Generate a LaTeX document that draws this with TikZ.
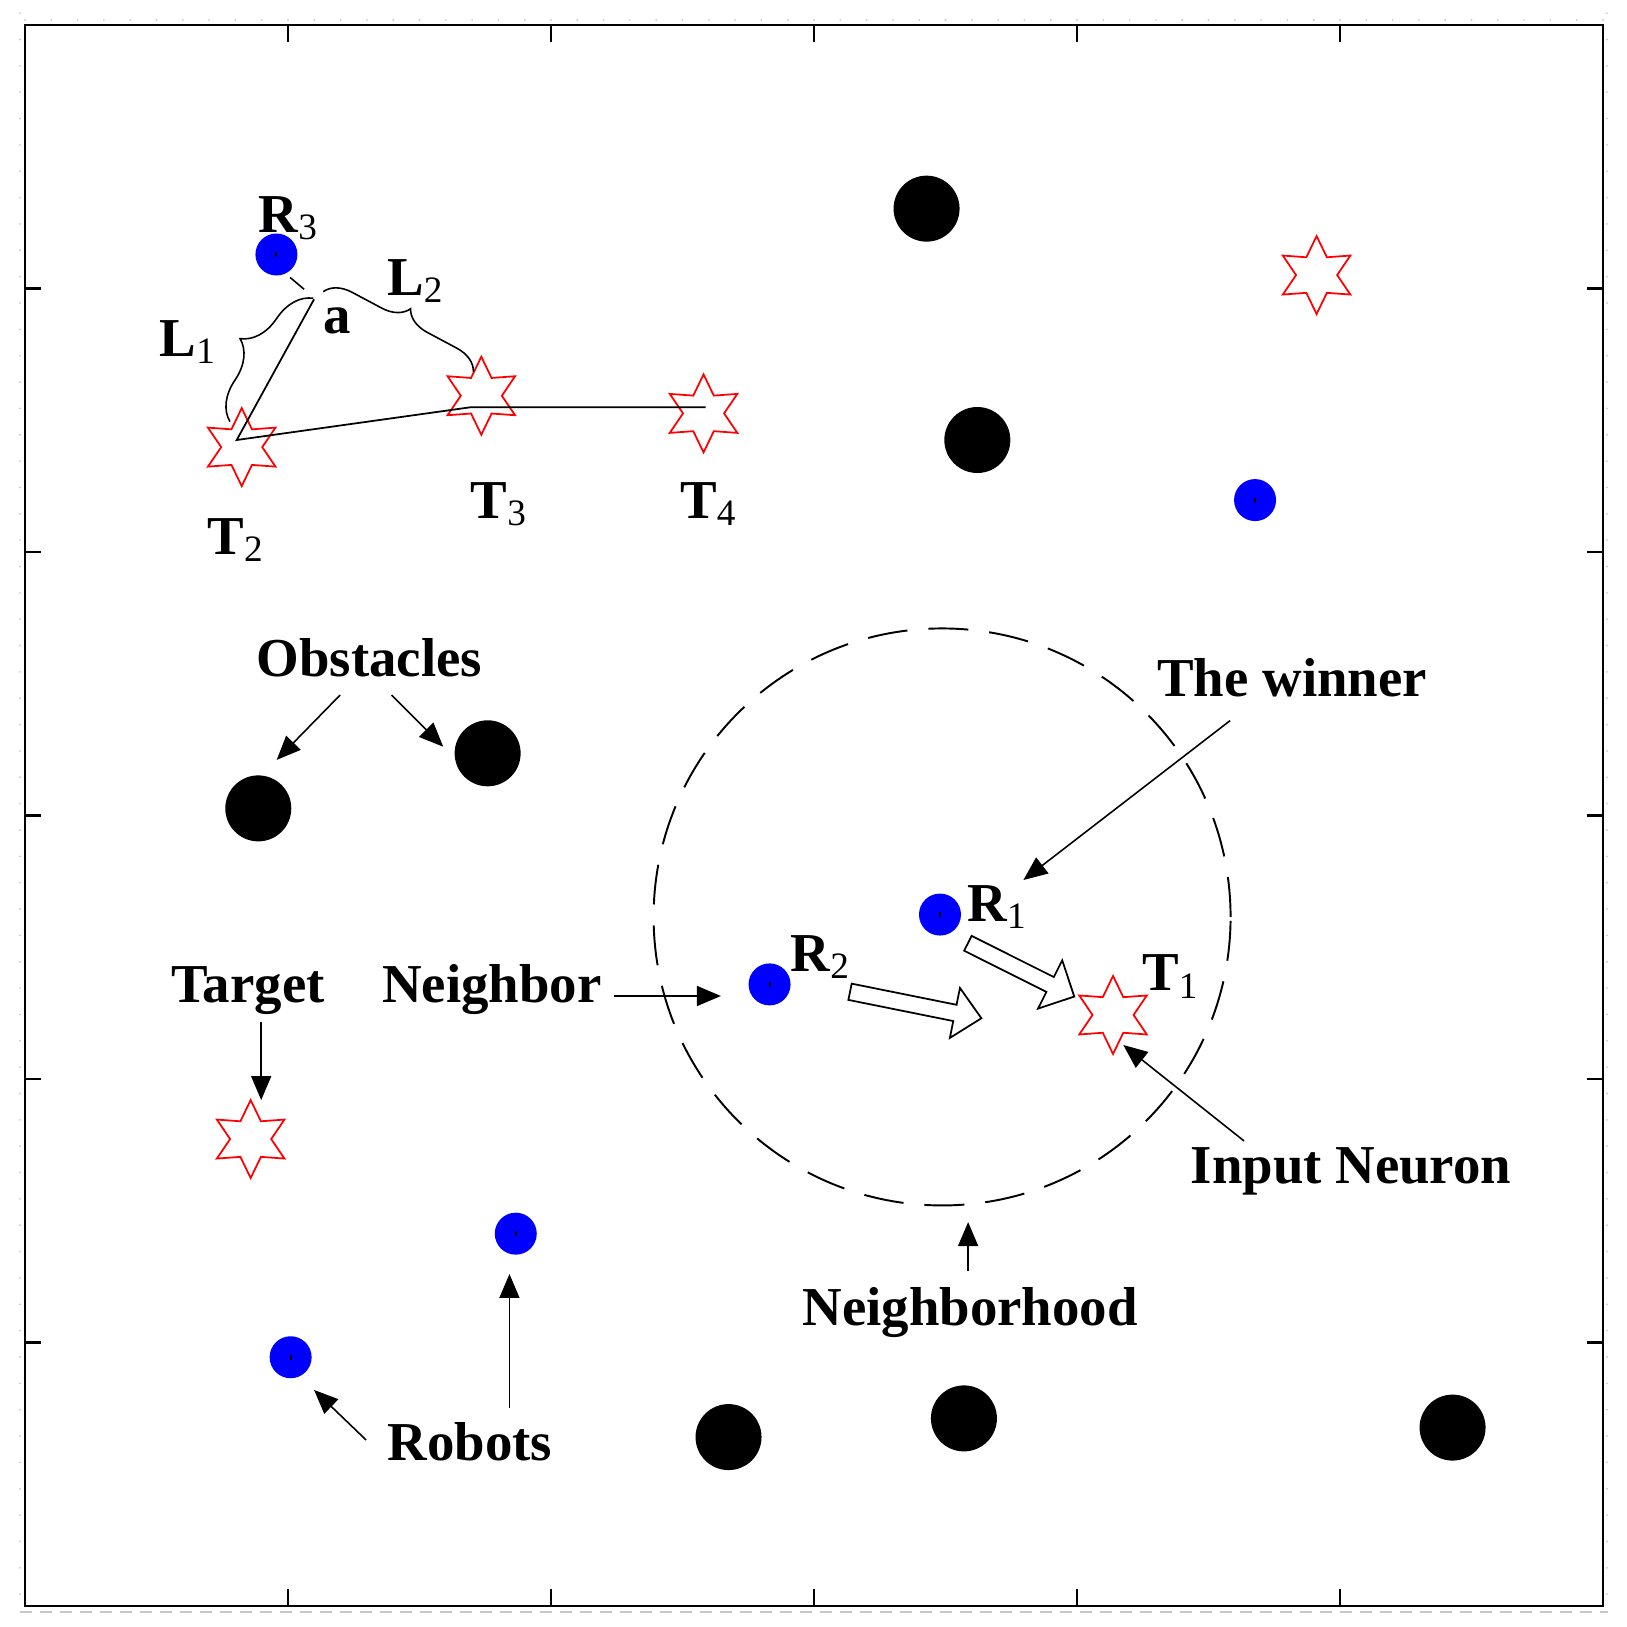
\documentclass[tikz,border=0pt]{standalone}
\usepackage{fontspec}
\setmainfont{Liberation Serif}
\usetikzlibrary{arrows.meta,shapes.geometric,decorations.pathreplacing}
\newcommand{\tsub}[2]{#1\raisebox{-2pt}{\fontsize{10.6}{12}\selectfont\mdseries #2}}
\tikzset{
  obst/.style={circle,fill=black,minimum size=6.6mm,inner sep=0},
  robot/.style={circle,fill=blue,minimum size=4.2mm,inner sep=0},
  tgt/.style={star,star points=6,star point ratio=1.9,draw=red,line width=.5pt,minimum size=7.8mm,inner sep=0},
  lbl/.style={anchor=base west,inner sep=0},
  arr/.style={-{Triangle[length=2.4mm,width=2mm]},line width=.45pt},
  brc/.style={decorate,decoration={brace,amplitude=#1},line width=.45pt}
}
\begin{document}
\begin{tikzpicture}[x=2.63cm,y=2.635cm,font=\fontsize{15.6}{18}\selectfont\bfseries]
\useasboundingbox (-.0951,-.0797) rectangle (6.0913,6.0949);
\draw[gray!45,dash pattern=on 1.2mm off .8mm,line width=.6pt] (-.02,-.024)--(6.02,-.024);
\foreach \k in {0,...,60}{\fill[gray!40] (\k/10,6.019) circle[radius=.3pt] (-.019,\k/10+.045) circle[radius=.3pt] (6.015,\k/10+.045) circle[radius=.3pt];}
\draw[line width=.8pt] (0,0) rectangle (6,6);
\foreach \t in {1,...,5}{\draw[line width=.8pt] (\t,0)--(\t,.065) (\t,6)--(\t,5.935) (0,\t)--(.062,\t) (6,\t)--(5.938,\t);}
\draw[line width=.55pt,dash pattern=on 4mm off 2.1mm] (3.487,2.615) circle[radius=2.885cm];
\foreach \n/\p in {O1/{3.428,5.303},O2/{3.621,4.425},O3/{1.759,3.236},O4/{.887,3.027},O5/{2.675,.641},O6/{3.570,.712},O7/{5.428,.677}}{\node[obst] (\n) at (\p) {};}
\foreach \n/\p in {R3/{.956,5.129},R4/{4.677,4.197},R1/{3.479,2.624},R2/{2.831,2.359},R5/{1.866,1.413},R6/{1.010,.944}}{\node[robot] (\n) at (\p) {};\fill (\n.center) ++(-.1mm,-.25mm) rectangle ++(.2mm,.5mm);}
\foreach \n/\p in {T2/{.824,4.398},T3/{1.735,4.593},T4/{2.580,4.526},T5/{4.911,5.051},T1/{4.137,2.243},T6/{.858,1.772}}{\node[tgt] (\n) at (\p) {};}
\coordinate (p2) at (.805,4.425);
\coordinate (apex) at (1.099,4.959);
\coordinate (p3) at (1.692,4.549);
\coordinate (p4) at (2.588,4.549);
\draw[line width=.5pt] (apex)--(p2)--(p3)--(p4);
\coordinate (tick1) at (1.008,5.042);
\coordinate (tick2) at (1.061,4.997);
\draw[line width=.45pt] (tick1)--(tick2);
\coordinate (b1s) at (.779,4.495);
\coordinate (b1e) at (1.096,4.963);
\coordinate (b2s) at (1.134,4.988);
\coordinate (b2e) at (1.705,4.684);
\draw[brc=3.8mm] (b1s)--(b1e);
\draw[brc=2.6mm] (b2s)--(b2e);
\foreach \p/\a/\l/\h in {{(3.137,2.331)}/-11.4/1.34/.255,{(3.585,2.515)}/-26.6/1.19/.27}{\draw[line width=.5pt,fill=white,shift={\p},rotate=\a,x=1cm,y=1cm] (0,.083)--(\l-.27,.083)--(\l-.27,\h)--(\l,0)--(\l-.27,-\h)--(\l-.27,-.083)--(0,-.083)--cycle;}
\node[lbl] (lR3) at (.886,5.214) {\tsub{R}{3}};
\node[lbl] (lL1) at (.510,4.742) {\tsub{L}{1}};
\node[lbl] (lL2) at (1.375,4.975) {\tsub{L}{2}};
\node[lbl] (la) at (1.134,4.830) {a};
\node[lbl] (lT2) at (.691,3.989) {\tsub{T}{2}};
\node[lbl] (lT3) at (1.692,4.128) {\tsub{T}{3}};
\node[lbl] (lT4) at (2.489,4.128) {\tsub{T}{4}};
\node[lbl] (lR1) at (3.581,2.597) {\tsub{R}{1}};
\node[lbl] (lR2) at (2.909,2.407) {\tsub{R}{2}};
\node[lbl] (lT1) at (4.246,2.334) {\tsub{T}{1}};
\node[lbl] (obst) at (.878,3.527) {Obstacles};
\node[lbl] (winner) at (4.303,3.451) {The winner};
\node[lbl] (input) at (4.430,1.604) {Input Neuron};
\node[lbl] (target) at (.554,2.290) {Target};
\node[lbl] (neighbor) at (1.356,2.290) {Neighbor};
\node[lbl] (hood) at (2.954,1.063) {Neighborhood};
\node[lbl] (robots) at (1.376,.554) {Robots};
\coordinate (obst-s1) at (1.198,3.457); \coordinate (obst-e1) at (.957,3.211);
\coordinate (obst-s2) at (1.394,3.457); \coordinate (obst-e2) at (1.590,3.261);
\coordinate (win-s) at (4.582,3.360); \coordinate (win-e) at (3.796,2.755);
\coordinate (in-s) at (4.635,1.765); \coordinate (in-e) at (4.176,2.129);
\coordinate (tg-s) at (.898,2.217); \coordinate (tg-e) at (.898,1.920);
\coordinate (nb-s) at (2.240,2.315); \coordinate (nb-e) at (2.646,2.315);
\coordinate (hd-s) at (3.586,1.271); \coordinate (hd-e) at (3.586,1.457);
\coordinate (rb-s1) at (1.297,.630); \coordinate (rb-e1) at (1.099,.820);
\coordinate (rb-s2) at (1.842,.751); \coordinate (rb-e2) at (1.842,1.260);
\foreach \s/\e in {obst-s1/obst-e1,obst-s2/obst-e2,win-s/win-e,in-s/in-e,tg-s/tg-e,nb-s/nb-e,hd-s/hd-e,rb-s1/rb-e1,rb-s2/rb-e2}{\draw[arr] (\s)--(\e);}
\end{tikzpicture}
\end{document}
